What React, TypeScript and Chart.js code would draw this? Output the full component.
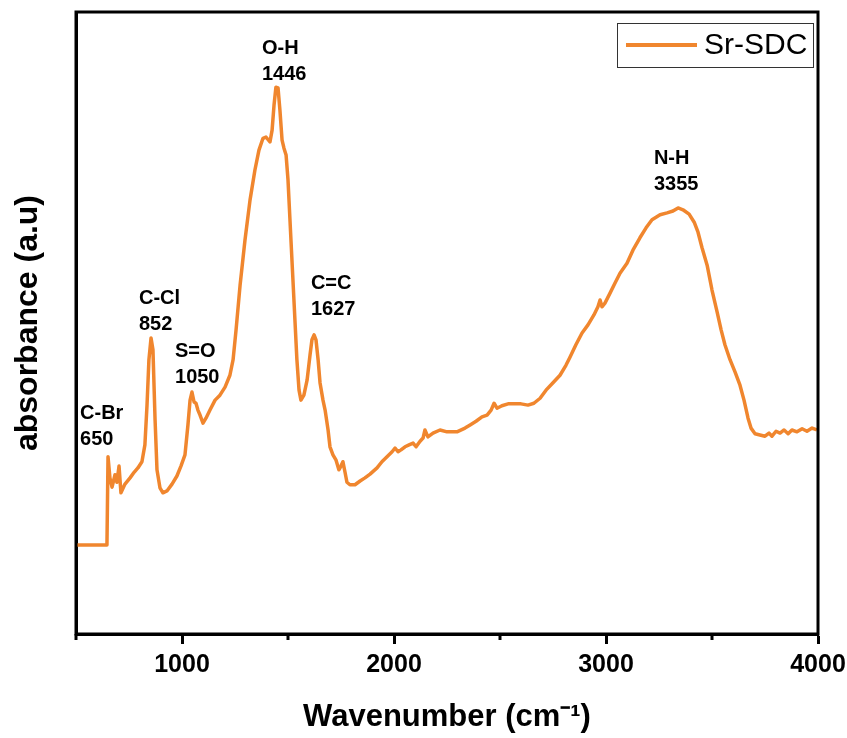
import React, { useEffect, useRef } from 'react';
import { Chart, registerables } from 'chart.js';

Chart.register(...registerables);

// ---- data ----
const seriesLabel = 'Sr-SDC';

const wavenumbers = [
  500, 646, 651, 660, 670, 684, 693, 703, 712, 731, 755, 774, 792, 811, 825, 835, 844, 854, 863, 873,
  882, 896, 910, 929, 953, 976, 995, 1014, 1028, 1038, 1047, 1057, 1066, 1075, 1085, 1099, 1113, 1132, 1156, 1179,
  1203, 1226, 1241, 1255, 1274, 1297, 1321, 1344, 1363, 1382, 1396, 1415, 1425, 1434, 1443, 1453, 1462, 1472, 1481, 1491,
  1500, 1514, 1528, 1542, 1552, 1561, 1575, 1590, 1604, 1613, 1623, 1632, 1642, 1651, 1665, 1675, 1689, 1698, 1712, 1726,
  1740, 1750, 1759, 1769, 1778, 1792, 1816, 1840, 1863, 1887, 1920, 1943, 1967, 1991, 2005, 2019, 2033, 2052, 2071, 2090,
  2104, 2123, 2137, 2146, 2160, 2184, 2217, 2250, 2297, 2335, 2359, 2387, 2415, 2439, 2458, 2472, 2486, 2509, 2538, 2566,
  2599, 2632, 2660, 2689, 2717, 2750, 2783, 2811, 2830, 2858, 2887, 2915, 2943, 2962, 2972, 2981, 2995, 3019, 3042, 3066,
  3099, 3127, 3160, 3189, 3217, 3255, 3288, 3316, 3340, 3363, 3392, 3416, 3434, 3453, 3477, 3500, 3524, 3543, 3561, 3585,
  3609, 3632, 3651, 3670, 3684, 3703, 3726, 3750, 3769, 3783, 3802, 3821, 3840, 3859, 3877, 3901, 3925, 3948, 3972, 3995,
];

const absorbance = [
  0.143, 0.143, 0.285, 0.251, 0.236, 0.256, 0.244, 0.270, 0.227, 0.241, 0.251, 0.260, 0.267, 0.277, 0.304, 0.368, 0.441, 0.476, 0.457, 0.344,
  0.264, 0.235, 0.227, 0.230, 0.241, 0.254, 0.270, 0.288, 0.336, 0.376, 0.389, 0.373, 0.371, 0.360, 0.352, 0.339, 0.347, 0.360, 0.376, 0.384,
  0.397, 0.416, 0.441, 0.489, 0.561, 0.633, 0.698, 0.746, 0.778, 0.797, 0.799, 0.791, 0.810, 0.850, 0.879, 0.878, 0.842, 0.794, 0.781, 0.770,
  0.730, 0.633, 0.537, 0.441, 0.392, 0.376, 0.384, 0.408, 0.449, 0.473, 0.481, 0.473, 0.441, 0.404, 0.376, 0.360, 0.328, 0.301, 0.288, 0.280,
  0.264, 0.270, 0.277, 0.260, 0.244, 0.240, 0.240, 0.246, 0.251, 0.257, 0.267, 0.277, 0.285, 0.293, 0.299, 0.293, 0.296, 0.301, 0.304, 0.307,
  0.301, 0.310, 0.315, 0.328, 0.317, 0.323, 0.328, 0.325, 0.325, 0.331, 0.336, 0.342, 0.349, 0.352, 0.360, 0.371, 0.363, 0.367, 0.370, 0.370,
  0.370, 0.368, 0.371, 0.379, 0.392, 0.404, 0.416, 0.432, 0.445, 0.465, 0.484, 0.497, 0.513, 0.526, 0.537, 0.526, 0.532, 0.548, 0.564, 0.580,
  0.596, 0.617, 0.637, 0.653, 0.666, 0.674, 0.677, 0.680, 0.685, 0.682, 0.675, 0.662, 0.646, 0.621, 0.593, 0.553, 0.518, 0.489, 0.465, 0.441,
  0.421, 0.400, 0.376, 0.347, 0.331, 0.322, 0.320, 0.318, 0.323, 0.318, 0.326, 0.323, 0.328, 0.322, 0.328, 0.325, 0.330, 0.326, 0.331, 0.328,
];

const majorTicks = [1000, 2000, 3000, 4000];
const minorTicks = [500, 1500, 2500, 3500];

const peakNames = ['C-Br', 'C-Cl', 'S=O', 'O-H', 'C=C', 'N-H'];
const peakWavenumbers = [650, 852, 1050, 1446, 1627, 3355];
// where each peak label sits (wavenumber of its left edge, absorbance of its number line)
const peakLabelX = [519, 797, 967, 1377, 1608, 3226];
const peakLabelY = [0.312, 0.497, 0.413, 0.9, 0.521, 0.722];

const LINE_COLOR = '#F0862E';
const FONT = '"Liberation Sans", Arial, Helvetica, sans-serif';

const overlayPlugin = {
  id: 'overlay',
  afterDatasetsDraw(chart: any) {
    const { ctx, chartArea: a, scales } = chart;
    const xs = scales.x;
    const ys = scales.y;
    ctx.save();

    // frame
    ctx.strokeStyle = '#000';
    ctx.lineWidth = 3;
    ctx.strokeRect(a.left, a.top, a.right - a.left, a.bottom - a.top);

    // minor ticks
    minorTicks.forEach((v) => {
      const px = xs.getPixelForValue(v);
      ctx.beginPath();
      ctx.moveTo(px, a.bottom);
      ctx.lineTo(px, a.bottom + 6);
      ctx.stroke();
    });

    // peak annotations
    ctx.fillStyle = '#000';
    ctx.font = 'bold 20px ' + FONT;
    ctx.textAlign = 'left';
    ctx.textBaseline = 'middle';
    peakNames.forEach((name, i) => {
      const px = xs.getPixelForValue(peakLabelX[i]);
      const py = ys.getPixelForValue(peakLabelY[i]);
      ctx.fillText(name, px, py - 26);
      ctx.fillText(String(peakWavenumbers[i]), px, py);
    });

    // legend box
    const ds = chart.data.datasets[0];
    const bw = 196;
    const bh = 44;
    const bx = a.right - 5 - bw;
    const by = a.top + 11;
    ctx.fillStyle = '#fff';
    ctx.fillRect(bx, by, bw, bh);
    ctx.strokeStyle = '#333';
    ctx.lineWidth = 1;
    ctx.strokeRect(bx + 0.5, by + 0.5, bw, bh);
    ctx.strokeStyle = ds.borderColor;
    ctx.lineWidth = 4;
    ctx.beginPath();
    ctx.moveTo(bx + 9, by + 22);
    ctx.lineTo(bx + 80, by + 22);
    ctx.stroke();
    ctx.fillStyle = '#000';
    ctx.font = '30px ' + FONT;
    ctx.textAlign = 'left';
    ctx.textBaseline = 'middle';
    ctx.fillText(ds.label, bx + 87, by + 23);

    ctx.restore();
  },
};

export default function App() {
  const canvasRef = useRef<HTMLCanvasElement | null>(null);

  useEffect(() => {
    if (!canvasRef.current) return;
    const points = wavenumbers.map((w, i) => ({ x: w, y: absorbance[i] }));
    const chart = new Chart(canvasRef.current, {
      type: 'line',
      data: {
        datasets: [
          {
            label: seriesLabel,
            data: points,
            borderColor: LINE_COLOR,
            backgroundColor: LINE_COLOR,
            borderWidth: 3.5,
            pointRadius: 0,
            tension: 0,
            borderJoinStyle: 'round',
            fill: false,
          },
        ],
      },
      options: {
        responsive: false,
        animation: false,
        layout: { padding: { top: 12, right: 29, left: 0, bottom: 0 } },
        plugins: {
          legend: { display: false },
          tooltip: { enabled: false },
        },
        scales: {
          x: {
            type: 'linear',
            min: 500,
            max: 4000,
            afterBuildTicks: (scale: any) => {
              scale.ticks = [...minorTicks, ...majorTicks]
                .sort((p, q) => p - q)
                .map((v) => ({ value: v }));
            },
            ticks: {
              autoSkip: false,
              maxRotation: 0,
              color: '#000',
              padding: 6,
              font: { family: FONT, size: 25, weight: 'bold' },
              callback: (v: any) => (majorTicks.includes(Number(v)) ? String(v) : ''),
            },
            grid: {
              drawOnChartArea: false,
              drawTicks: true,
              tickLength: 10,
              tickWidth: 3,
              tickColor: (c: any) =>
                c.tick && majorTicks.includes(c.tick.value) ? '#000' : 'rgba(0,0,0,0)',
            },
            border: { display: true, color: '#000', width: 3 },
            title: {
              display: true,
              text: 'Wavenumber (cm⁻¹)',
              color: '#000',
              font: { family: FONT, size: 31, weight: 'bold' },
              padding: { top: 0, bottom: 2 },
            },
            afterFit: (s: any) => {
              s.height = 104;
              s.paddingLeft = 0;
              s.paddingRight = 0;
            },
          },
          y: {
            type: 'linear',
            min: 0,
            max: 1,
            ticks: { display: false },
            grid: { display: false },
            border: { display: true, color: '#000', width: 3 },
            title: {
              display: true,
              text: 'absorbance (a.u)',
              color: '#000',
              font: { family: FONT, size: 32, weight: 'bold' },
              padding: { top: 9, bottom: 0 },
            },
            afterFit: (s: any) => {
              s.width = 76;
              s.paddingTop = 0;
              s.paddingBottom = 0;
            },
          },
        },
      },
      plugins: [overlayPlugin],
    });
    return () => chart.destroy();
  }, []);

  return (
    <div style={{ position: 'fixed', left: 0, top: 0, width: 847, height: 738, background: '#fff' }}>
      <canvas ref={canvasRef} width={847} height={738} style={{ display: 'block' }} />
    </div>
  );
}
